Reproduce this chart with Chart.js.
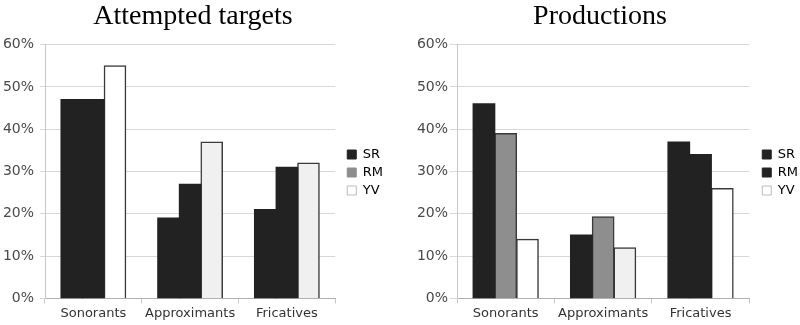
<!DOCTYPE html>
<html>
<head>
<meta charset="utf-8">
<script src="https://cdn.jsdelivr.net/npm/chart.js@4"></script>
<style>
  body { margin: 0; background: #fff; }
  .wrap { position: absolute; top: 0; width: 400px; height: 325px; }
  #left { left: 0; }
  #right { left: 400px; }
</style>
</head>
<body>
<div class="wrap" id="left"><canvas id="attChart"></canvas></div>
<div class="wrap" id="right"><canvas id="prodChart"></canvas></div>
<script>
// --- data ---
const categories = ['Sonorants', 'Approximants', 'Fricatives'];
const speakers = ['SR', 'RM', 'YV'];
const yTicks = [0, 10, 20, 30, 40, 50, 60];

const attemptedSR = [47, 19, 21];
const attemptedRM = [47, 27, 31];
const attemptedYV = [55, 37, 32];

const productionSR = [46, 15, 37];
const productionRM = [39, 19.3, 34];
const productionYV = [14, 12, 26];

// --- colours (the scanned figure shades bars inconsistently) ---
const DARK = '#222222', GREY = '#8e8e8e', WHITE = '#ffffff', PALE = '#f0f0f0';
const attColors = [[DARK, DARK, DARK], [DARK, DARK, DARK], [WHITE, PALE, PALE]];
const attLegend = [DARK, GREY, WHITE];
const prodColors = [[DARK, DARK, DARK], [GREY, GREY, DARK], [WHITE, PALE, WHITE]];
const prodLegend = [DARK, DARK, WHITE];

Chart.defaults.font.family = '"DejaVu Sans", Verdana, sans-serif';
Chart.defaults.color = '#4a4a4a';

function makeChart(canvasId, title, series, colors, legendColors, axis) {
    const ctx = document.getElementById(canvasId).getContext('2d');
    // nudge legend, the original sits a bit further right and lower
    const legendNudge = {
        id: 'legendNudge',
        afterLayout(chart) {
            chart.legend.left += axis.nudge;
            chart.legend.right += axis.nudge;
            chart.legend.top += 11;
            chart.legend.bottom += 11;
        }
    };
    return new Chart(ctx, {
        type: 'bar',
        data: {
            labels: categories,
            datasets: series.map((vals, i) => ({
                label: speakers[i],
                data: vals,
                backgroundColor: colors[i],
                borderColor: '#3a3a3a',
                borderWidth: colors[i].map(c => c === DARK ? 0 : 1.5),
                borderSkipped: 'bottom',
                inflateAmount: 0.5,
                barPercentage: 1,
                categoryPercentage: 0.67
            }))
        },
        plugins: [legendNudge],
        options: {
            responsive: true,
            maintainAspectRatio: false,
            animation: false,
            layout: { padding: { top: 0, right: axis.rightPad, bottom: 2, left: 0 } },
            plugins: {
                tooltip: { enabled: false },
                title: {
                    display: true,
                    text: title,
                    color: '#000',
                    font: { family: '"Liberation Serif", "Times New Roman", serif', size: 28, weight: 'normal' },
                    padding: { top: 0, bottom: 11 }
                },
                legend: {
                    position: 'right',
                    labels: {
                        boxWidth: 9,
                        boxHeight: 9,
                        padding: 5,
                        font: { size: 13 },
                        color: '#333',
                        generateLabels: (chart) => speakers.map((s, i) => ({
                            text: s,
                            fillStyle: legendColors[i],
                            strokeStyle: legendColors[i] === WHITE ? '#bbb' : legendColors[i],
                            lineWidth: 1,
                            datasetIndex: i
                        }))
                    }
                }
            },
            scales: {
                x: {
                    grid: { display: true, drawOnChartArea: false, drawTicks: true, tickLength: 5, color: '#c8c8c8', offset: true },
                    border: { color: '#b0b0b0' },
                    ticks: { font: { size: 13 }, color: '#333', padding: 2 }
                },
                y: {
                    min: 0,
                    max: 60,
                    afterBuildTicks: (scale) => { scale.ticks = yTicks.map(v => ({ value: v })); },
                    afterFit: (scale) => { scale.width = axis.width; },
                    grid: { color: '#d8d8d8', tickLength: axis.tick },
                    border: { color: '#c8c8c8' },
                    ticks: { font: { size: 14 }, color: '#4a4a4a', padding: axis.pad, callback: v => v + '%' }
                }
            }
        }
    });
}

makeChart('attChart', 'Attempted targets', [attemptedSR, attemptedRM, attemptedYV], attColors, attLegend,
    { width: 45, tick: 5, pad: 6, rightPad: 14, nudge: 7 });
makeChart('prodChart', 'Productions', [productionSR, productionRM, productionYV], prodColors, prodLegend,
    { width: 57, tick: 7, pad: 2, rightPad: 0, nudge: 8 });
</script>
</body>
</html>
